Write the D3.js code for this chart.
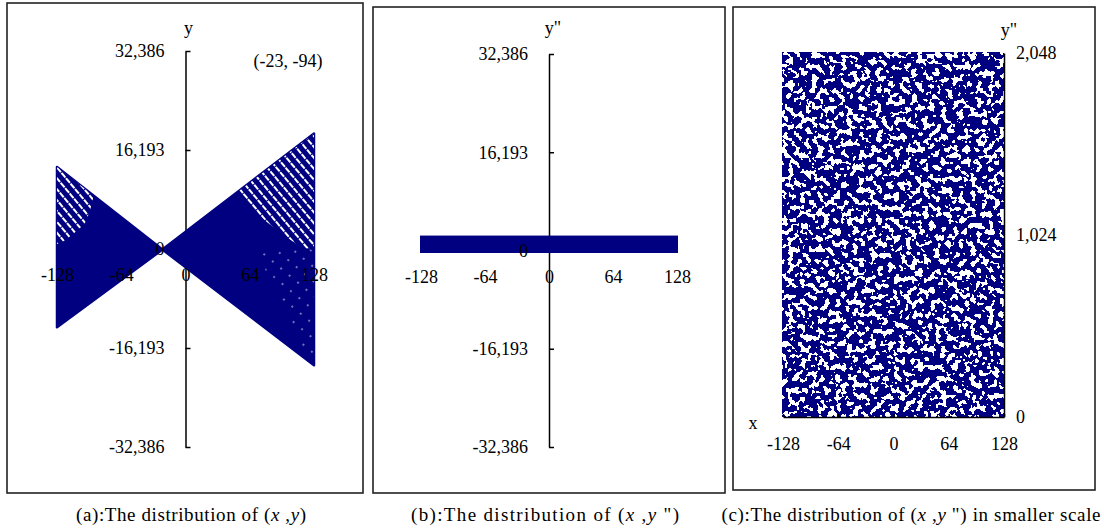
<!doctype html>
<html>
<head>
<meta charset="UTF-8">
<title>distribution of (x, y)</title>
<script src="https://d3js.org/d3.v7.min.js"></script>
<style>
body{margin:0;background:#fff;}
text{font-family:"Liberation Serif","Times New Roman",serif;font-size:18px;fill:#000;}
</style>
</head>
<body>
<script>
// tick values / labels
var xTicks=[-128,-64,0,64,128];
var xTickLabels=["-128","-64","0","64","128"];
var yTicks=[-32386,-16193,0,16193,32386];
var yTickLabels=["-32,386","-16,193","0","16,193","32,386"];
var ySmallTicks=[0,1024,2048];
var ySmallTickLabels=["0","1,024","2,048"];

// (a) outline of the (x, y) cloud
var bowX=[-128,-23,128];
var bowTop=[13400,-94,18900];
var bowBottom=[-12800,-94,-19000];
var vertex=[-23,-94];
// thinner parts of the cloud
var stripesRightX=[50,128,128,110,88];
var stripesRightY=[9700,18950,-160,900,3500];
var stripesLeftX=[-128,-92,-100,-128];
var stripesLeftY=[13400,9200,4300,900];
var dotsRightX=[72,128,128,118,95];
var dotsRightY=[-400,-400,-18400,-16600,-8000];

// (b) and (c): the (x, y'') cloud
var bandX=[-128,128];
var bandY=[0,2048];

var captions=[
  [["(a):The distribution of (",0],["x",1],[" ,",0],["y",1],[")",0]],
  [["(b):The distribution of (",0],["x",1],[" ,",0],["y",1],[" \")",0]],
  [["(c):The distribution of (",0],["x",1],[" ,",0],["y",1],[" \") in smaller scale",0]]
];

var navy="#000080";
var svg=d3.select("body").append("svg").attr("width",1104).attr("height",532);
var defs=svg.append("defs");

// textures
var ps=defs.append("pattern").attr("id","stripes").attr("width",7).attr("height",7)
  .attr("patternUnits","userSpaceOnUse").attr("patternTransform","rotate(50)");
ps.append("rect").attr("width",7).attr("height",7).attr("fill",navy);
ps.append("line").attr("x1",0).attr("x2",7).attr("y1",1).attr("y2",1)
  .attr("stroke","#fff").attr("stroke-width",1.8).attr("stroke-dasharray","3,1");
var pd=defs.append("pattern").attr("id","dots").attr("width",11).attr("height",11)
  .attr("patternUnits","userSpaceOnUse").attr("patternTransform","rotate(40)");
pd.append("rect").attr("width",11).attr("height",11).attr("fill",navy);
pd.append("circle").attr("cx",3).attr("cy",3).attr("r",0.8).attr("fill","#fff");

var f=defs.append("filter").attr("id","speckle").attr("x",0).attr("y",0)
  .attr("width",1).attr("height",1).attr("color-interpolation-filters","sRGB");
f.append("feTurbulence").attr("type","fractalNoise").attr("baseFrequency",0.17)
  .attr("numOctaves",2).attr("seed",7).attr("result","n");
f.append("feColorMatrix").attr("in","n").attr("type","matrix")
  .attr("values","0 0 0 0 0  0 0 0 0 0  0 0 0 0 0  1 0 0 0 0").attr("result","a");
f.append("feComponentTransfer").attr("in","a").attr("result","t")
  .append("feFuncA").attr("type","discrete")
  .attr("tableValues","0 0 0 0 0 0 0 0 0 1 1 1 1 1 1 1 1 1 1 1");
f.append("feFlood").attr("flood-color",navy).attr("result","c");
f.append("feComposite").attr("in","c").attr("in2","t").attr("operator","in");

// frames
[[7,3,356,490],[373,7,352,486],[733,7,362,483]].forEach(function(r){
  svg.append("rect").attr("x",r[0]).attr("y",r[1]).attr("width",r[2]).attr("height",r[3])
    .attr("fill","none").attr("stroke","#222").attr("stroke-width",1.6);
});

function fmt(labels,ticks){return function(d){return labels[ticks.indexOf(d)];};}

// axis drawn in two goes: lines under the data, labels over it
function axisPair(parent,axis,tr,noDomain){
  var l=parent.append("g").attr("transform",tr).call(axis);
  l.attr("font-size",null).attr("font-family",null);
  l.selectAll("text").remove();
  if(noDomain) l.select(".domain").remove();
  l.selectAll("path,line").attr("stroke","#000").attr("stroke-width",1.5);
  return function(){
    var t=parent.append("g").attr("transform",tr).call(axis);
    t.attr("font-size",null).attr("font-family",null);
    t.select(".domain").remove();
    t.selectAll("line").remove();
    t.selectAll("text").attr("fill","#000");
    return t;
  };
}

function poly(xs,ys,x,y){
  return d3.line().x(function(d){return x(d[0]);}).y(function(d){return y(d[1]);})
    .curve(d3.curveCardinalClosed.tension(0.6))(d3.zip(xs,ys));
}

// ---------- (a)
var xA=d3.scaleLinear().domain([-128,128]).range([57,314]);
var yA=d3.scaleLinear().domain([-32386,32386]).range([447,51]);
var gA=svg.append("g");
gA.append("line").attr("x1",xA(-128)).attr("x2",xA(128)).attr("y1",yA(0)).attr("y2",yA(0))
  .attr("stroke","#000").attr("stroke-dasharray","1,3");
var labA=axisPair(gA,d3.axisLeft(yA).tickValues(yTicks).tickSizeInner(-5).tickSizeOuter(0)
  .tickPadding(21).tickFormat(fmt(yTickLabels,yTicks)),"translate("+xA(0)+",0)");
var labAx=axisPair(gA,d3.axisBottom(xA).tickValues(xTicks).tickSize(0).tickPadding(19)
  .tickFormat(fmt(xTickLabels,xTicks)),"translate(0,"+yA(0)+")",true);

var clipA=defs.append("clipPath").attr("id","clipBow");
var bow=d3.area().x(function(d){return xA(d[0]);})
  .y0(function(d){return yA(d[2]);}).y1(function(d){return yA(d[1]);});
var bowD=bow(d3.zip(bowX,bowTop,bowBottom));
clipA.append("path").attr("d",bowD);
gA.append("path").attr("d",bowD)
  .attr("fill",navy).attr("stroke",navy).attr("stroke-width",2.5).attr("stroke-linejoin","round");
var tex=gA.append("g").attr("clip-path","url(#clipBow)");
tex.append("path").attr("d",poly(stripesRightX,stripesRightY,xA,yA)).attr("fill","url(#stripes)");
tex.append("path").attr("d",poly(stripesLeftX,stripesLeftY,xA,yA)).attr("fill","url(#stripes)");
tex.append("path").attr("d",poly(dotsRightX,dotsRightY,xA,yA)).attr("fill","url(#dots)");
labA(); labAx();
gA.append("text").attr("x",xA(0)+3).attr("y",34).attr("text-anchor","middle").text("y");
gA.append("text").attr("x",288).attr("y",67).attr("text-anchor","middle")
  .text("("+vertex[0]+", "+vertex[1]+")");

// ---------- (b)
var xB=d3.scaleLinear().domain([-128,128]).range([421,677]);
var yB=d3.scaleLinear().domain([-32386,32386]).range([447,54]);
var gB=svg.append("g");
var labB=axisPair(gB,d3.axisLeft(yB).tickValues(yTicks).tickSizeInner(-5).tickSizeOuter(0)
  .tickPadding(21).tickFormat(fmt(yTickLabels,yTicks)),"translate("+xB(0)+",0)");
var labBx=axisPair(gB,d3.axisBottom(xB).tickValues(xTicks).tickSize(0).tickPadding(20)
  .tickFormat(fmt(xTickLabels,xTicks)),"translate(0,"+yB(0)+")",true);
gB.append("rect").attr("x",xB(bandX[0])-1).attr("width",xB(bandX[1])-xB(bandX[0])+2)
  .attr("y",yB(bandY[1])-2.5).attr("height",yB(bandY[0])-yB(bandY[1])+5).attr("fill",navy);
labB(); labBx();
gB.append("text").attr("x",xB(0)+4).attr("y",34).attr("text-anchor","middle").text("y\"");

// ---------- (c)
var xC=d3.scaleLinear().domain([-128,128]).range([783,1004]);
var yC=d3.scaleLinear().domain([0,2048]).range([417,53]);
var gC=svg.append("g");
gC.append("rect").attr("x",xC(bandX[0])-1).attr("width",xC(bandX[1])-xC(bandX[0])+1)
  .attr("y",yC(bandY[1])-1).attr("height",yC(bandY[0])-yC(bandY[1])+1)
  .attr("fill",navy).attr("filter","url(#speckle)");
var labCx=axisPair(gC,d3.axisBottom(xC).tickValues(xTicks).tickSizeInner(-3).tickSizeOuter(0)
  .tickPadding(20).tickFormat(fmt(xTickLabels,xTicks)),"translate(0,"+yC(0)+")");
var labCy=axisPair(gC,d3.axisRight(yC).tickValues(ySmallTicks).tickSizeInner(0).tickSizeOuter(0)
  .tickPadding(12).tickFormat(fmt(ySmallTickLabels,ySmallTicks)),"translate("+xC(128)+",0)");
labCx(); labCy();
gC.append("text").attr("x",xC(128)+5).attr("y",36).attr("text-anchor","middle").text("y\"");
gC.append("text").attr("x",753).attr("y",429).attr("text-anchor","middle").text("x");

// ---------- captions
var capPos=[[191,230],[545,268],[911,379]];
captions.forEach(function(parts,i){
  var t=svg.append("text").attr("x",capPos[i][0]).attr("y",521).attr("text-anchor","middle")
    .style("font-size","19px")
    .attr("textLength",capPos[i][1]).attr("lengthAdjust","spacing");
  parts.forEach(function(p){
    t.append("tspan").attr("font-style",p[1]?"italic":null).text(p[0]);
  });
});
</script>
</body>
</html>
